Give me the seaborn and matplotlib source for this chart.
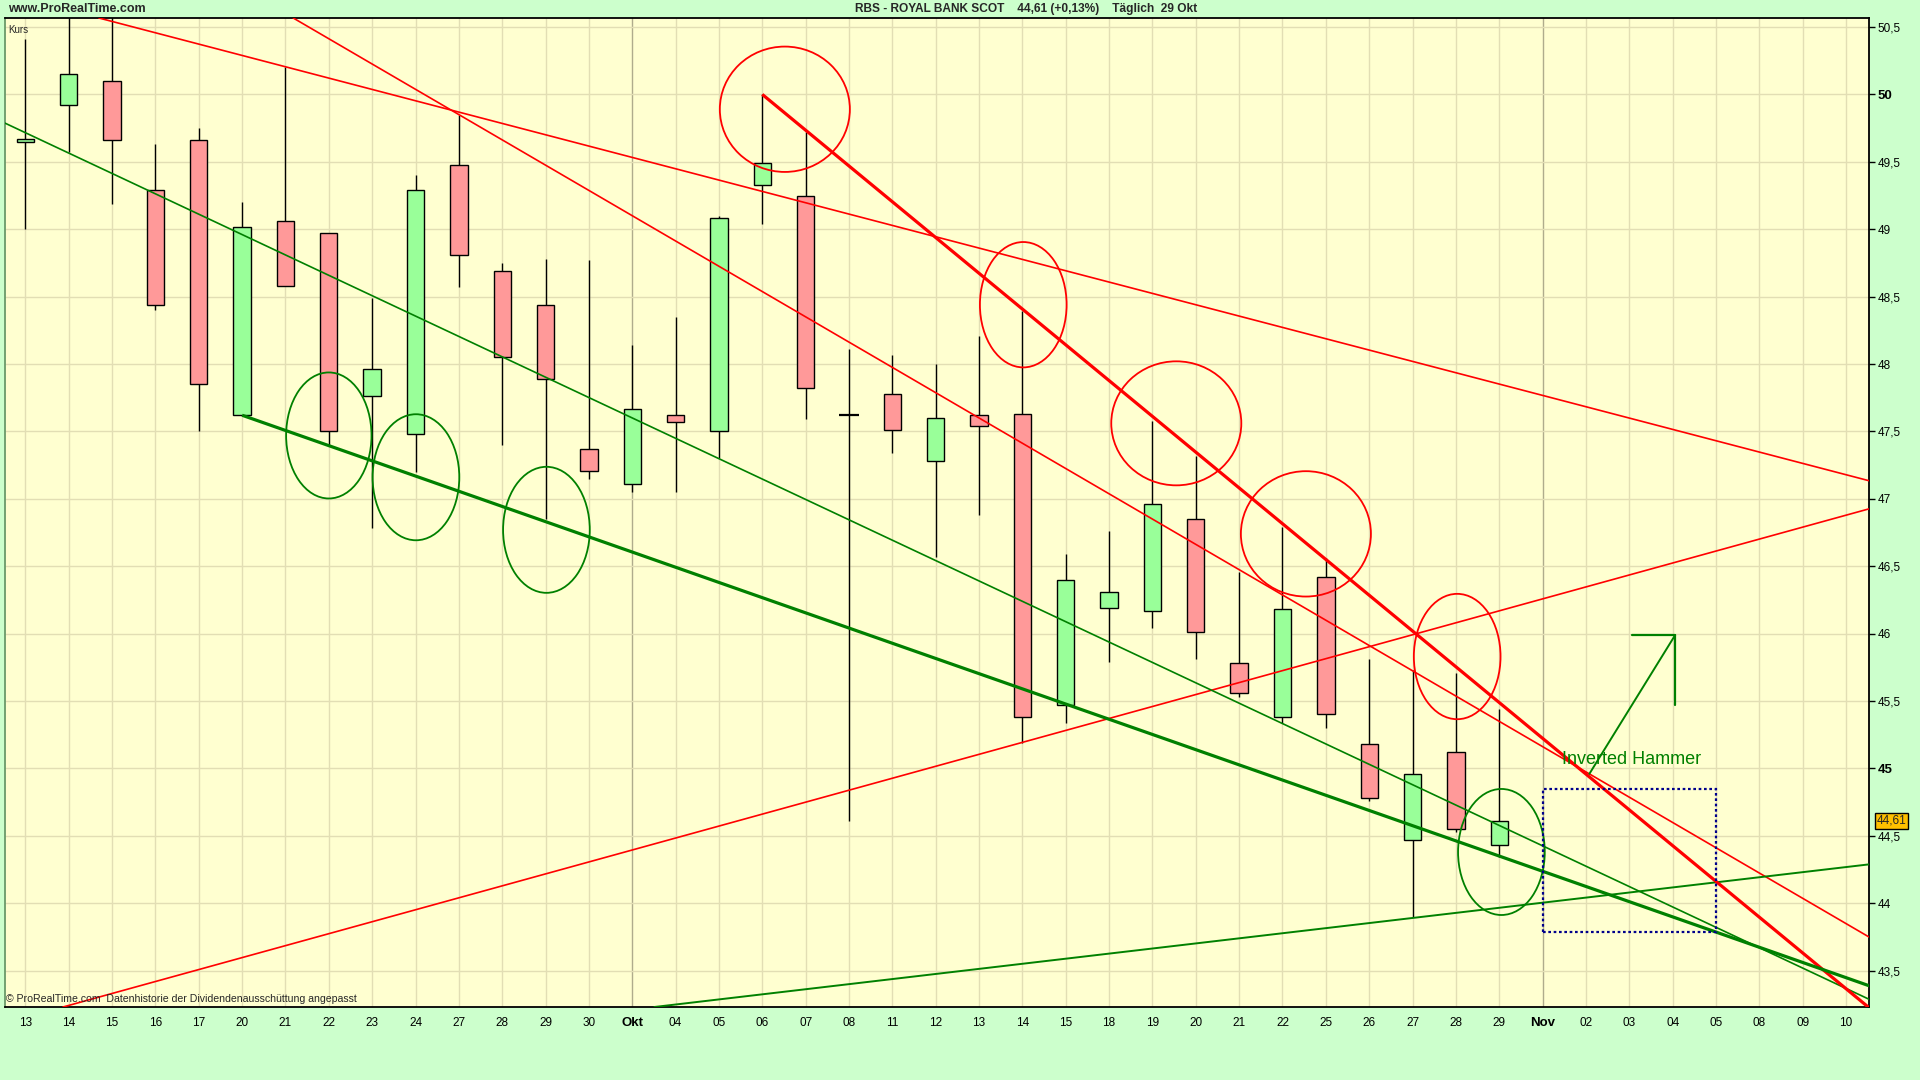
import numpy as np
import pandas as pd
import seaborn as sns
import matplotlib.pyplot as plt
from matplotlib.patches import Ellipse, Rectangle

# slots on the x axis (trading days, Sep 13 - Nov 10)
dates = ['13', '14', '15', '16', '17', '20', '21', '22', '23', '24', '27', '28', '29', '30',
         'Okt', '04', '05', '06', '07', '08', '11', '12', '13', '14', '15', '18', '19', '20',
         '21', '22', '25', '26', '27', '28', '29', 'Nov', '02', '03', '04', '05', '08', '09', '10']

# daily candles (first 35 slots)
opens = [49.65, 49.92, 50.10, 49.29, 49.66, 47.62, 49.06, 48.97, 47.76, 47.48,
         49.48, 48.69, 48.44, 47.37, 47.11, 47.62, 47.50, 49.33, 49.25, 47.62,
         47.78, 47.28, 47.62, 47.63, 45.47, 46.19, 46.17, 46.85, 45.78, 45.38,
         46.42, 45.18, 44.47, 45.12, 44.43]
highs = [50.41, 50.65, 50.65, 49.63, 49.75, 49.20, 50.20, 48.97, 48.49, 49.40,
         49.85, 48.75, 48.78, 48.77, 48.14, 48.35, 49.10, 50.00, 49.72, 48.11,
         48.07, 48.00, 48.21, 48.39, 46.59, 46.76, 47.58, 47.32, 46.46, 46.79,
         46.56, 45.81, 45.73, 45.71, 45.44]
lows = [49.00, 49.57, 49.19, 48.40, 47.50, 47.62, 48.58, 47.40, 46.78, 47.20,
        48.57, 47.40, 46.85, 47.15, 47.05, 47.05, 47.30, 49.04, 47.59, 44.61,
        47.34, 46.57, 46.88, 45.19, 45.34, 45.79, 46.04, 45.81, 45.53, 45.34,
        45.30, 44.76, 43.90, 44.53, 44.34]
closes = [49.67, 50.15, 49.66, 48.44, 47.85, 49.02, 48.58, 47.50, 47.96, 49.29,
          48.81, 48.05, 47.89, 47.21, 47.67, 47.57, 49.08, 49.49, 47.82, 47.62,
          47.51, 47.60, 47.54, 45.38, 46.40, 46.31, 46.96, 46.01, 45.56, 46.18,
          45.40, 44.78, 44.96, 44.55, 44.61]

# trend lines drawn on the chart: (slot, price) pairs
red_thin_upper = [(1.72, 50.565), (42.58, 47.13)]
red_thin_steep = [(6.19, 50.565), (42.58, 43.74)]
red_rising = [(0.925, 43.235), (42.58, 46.93)]
green_thin = [(-0.555, 49.80), (42.58, 43.28)]
green_rising = [(14.51, 43.23), (42.58, 44.29)]
red_thick = [(17, 50.0), (42.7, 43.18)]
green_thick = [(5, 47.62), (42.6, 43.38)]

# marked zones: (slot, price, width in slots, height in price)
red_circles = [(17.52, 49.89, 3.0, 0.93), (23.02, 48.44, 2.0, 0.93), (26.55, 47.56, 3.0, 0.92),
               (29.54, 46.74, 3.0, 0.93), (33.03, 45.83, 2.0, 0.93)]
green_circles = [(7.0, 47.47, 1.97, 0.935), (9.01, 47.16, 2.0, 0.935),
                 (12.02, 46.77, 2.0, 0.935), (34.05, 44.38, 2.0, 0.935)]

arrow_path = [(36.08, 44.96), (38.06, 45.99)]
arrow_head = [(37.06, 45.99), (38.06, 45.99), (38.06, 45.47)]
target_box = (35, 43.79, 4, 1.06)

last_price = 44.61

df = pd.DataFrame({'open': opens, 'high': highs, 'low': lows, 'close': closes})
df['slot'] = np.arange(len(df))

sns.set_style('white')
plt.rcParams['font.family'] = ['Liberation Sans', 'DejaVu Sans']

BG = '#CCFFCC'
PLOT_BG = '#FFFFD0'
GRID = '#E2DEB4'
UP = '#99FF99'
DOWN = '#FF9999'
RED = '#FF0000'
GREEN = '#008000'

fig = plt.figure(figsize=(19.2, 10.8), dpi=100, facecolor=BG)
ax = fig.add_axes([5 / 1920, 1 - 1007 / 1080, 1864 / 1920, 989 / 1080])
ax.set_facecolor(PLOT_BG)

ax.set_xlim(-0.47, 42.53)
ax.set_ylim(43.23, 50.567)

# grid
for i, d in enumerate(dates):
    col = '#AFAC8C' if d in ('Okt', 'Nov') else GRID
    ax.axvline(i, color=col, lw=1.0, zorder=0)
for p in np.arange(43.5, 50.51, 0.5):
    ax.axhline(p, color=GRID, lw=1.0, zorder=0)

# candles
body_w = 0.40
for _, r in df.iterrows():
    x = r['slot']
    ax.vlines(x, r['low'], r['high'], color='black', lw=1.0, zorder=2)
    if r['close'] == r['open']:
        ax.hlines(r['open'], x - body_w / 2 - 0.02, x + body_w / 2 + 0.02, color='black', lw=1.6, zorder=3)
        continue
    col = UP if r['close'] > r['open'] else DOWN
    lo = min(r['open'], r['close'])
    h = abs(r['close'] - r['open'])
    ax.bar(x, h, bottom=lo, width=body_w, color=col, edgecolor='black', linewidth=1.0, zorder=3)

# trend lines
for pts, col, lw in [(red_thin_upper, RED, 1.2), (red_thin_steep, RED, 1.2), (red_rising, RED, 1.2),
                     (green_thin, GREEN, 1.2), (green_rising, GREEN, 1.4)]:
    ax.axline(pts[0], pts[1], color=col, lw=lw, zorder=4)
for pts, col in [(red_thick, RED), (green_thick, GREEN)]:
    xs, ys = zip(*pts)
    ax.plot(xs, ys, color=col, lw=2.3, zorder=4, solid_capstyle='butt')

for cx, cy, w, h in red_circles:
    ax.add_patch(Ellipse((cx, cy), w, h, fill=False, edgecolor=RED, lw=1.3, zorder=5))
for cx, cy, w, h in green_circles:
    ax.add_patch(Ellipse((cx, cy), w, h, fill=False, edgecolor=GREEN, lw=1.3, zorder=5))

xs, ys = zip(*arrow_path)
ax.plot(xs, ys, color=GREEN, lw=1.4, zorder=5)
xs, ys = zip(*arrow_head)
ax.plot(xs, ys, color=GREEN, lw=1.6, zorder=5)
ax.text(37.06, 45.065, 'Inverted Hammer', color=GREEN, fontsize=13, ha='center', va='center', zorder=6)

bx, by, bw, bh = target_box
ax.add_patch(Rectangle((bx, by), bw, bh, fill=False, edgecolor='#00008B', lw=1.6,
                       linestyle=(0, (1.2, 1.2)), zorder=5))

# axes styling
for s in ax.spines.values():
    s.set_color('black')
    s.set_linewidth(1.3)
ax.spines['left'].set_color('#6A9A6A')

ax.yaxis.tick_right()
yt = np.arange(43.5, 50.51, 0.5)
ax.set_yticks(yt)
ylabels = ax.set_yticklabels([('%g' % v).replace('.', ',') for v in yt], fontsize=8.5)
for v, lab in zip(yt, ylabels):
    if v % 5 == 0:
        lab.set_fontweight('bold')
        lab.set_fontsize(9.5)
ax.tick_params(axis='y', direction='out', length=4, width=1, pad=2, colors='black')

ax.set_xticks(range(len(dates)))
xlabels = ax.set_xticklabels(dates, fontsize=8.5)
for lab in xlabels:
    if lab.get_text() in ('Okt', 'Nov'):
        lab.set_fontweight('bold')
        lab.set_fontsize(9.5)
ax.tick_params(axis='x', direction='out', length=3, width=1, pad=4, colors='black')

# last price tag
ax.text(1.004, (last_price - 43.23) / (50.567 - 43.23), ('%.2f' % last_price).replace('.', ','),
        transform=ax.transAxes, fontsize=8.5, ha='left', va='center',
        bbox=dict(boxstyle='square,pad=0.15', fc='#FFC000', ec='black', lw=1))

ax.text(0.0015, 0.993, 'Kurs', transform=ax.transAxes, fontsize=7, ha='left', va='top')
ax.text(0.0005, 0.003, '\u00a9 ProRealTime.com  Datenhistorie der Dividendenaussch\u00fcttung angepasst',
        transform=ax.transAxes, fontsize=7.6, ha='left', va='bottom', zorder=7)

fig.text(8 / 1920, 1 - 9 / 1080, 'www.ProRealTime.com', fontsize=9, fontweight='bold', ha='left', va='center')
fig.text(1026 / 1920, 1 - 9 / 1080, 'RBS - ROYAL BANK SCOT    44,61 (+0,13%)    T\u00e4glich  29 Okt',
         fontsize=8.6, fontweight='bold', ha='center', va='center')

fig.savefig('out.png', dpi=100, facecolor=BG)
